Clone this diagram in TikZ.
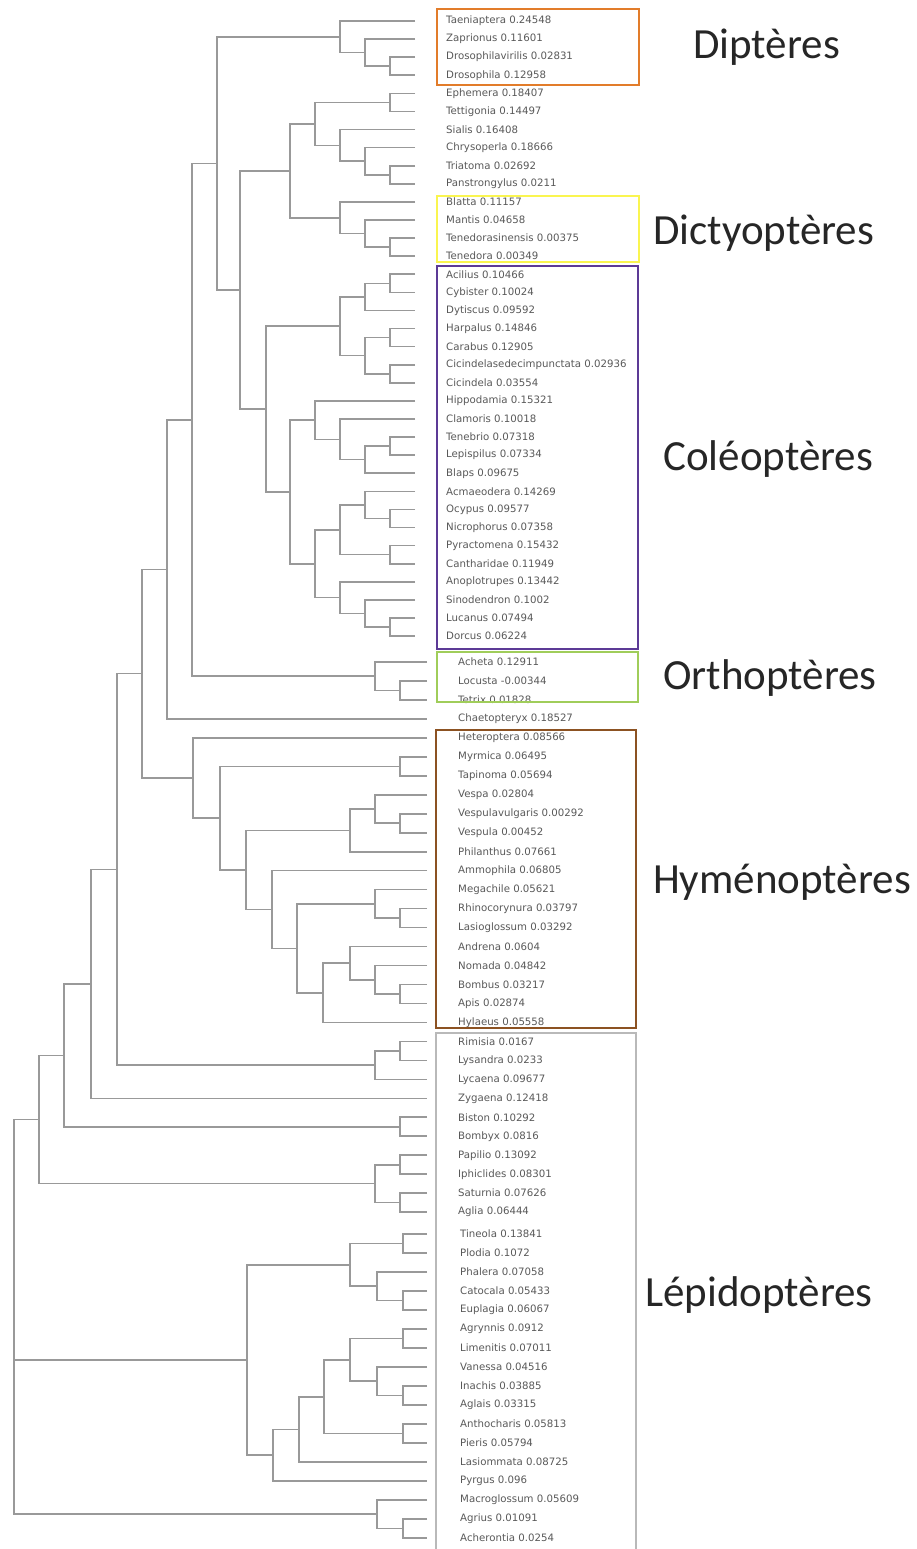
\documentclass[tikz,border=0pt]{standalone}
\usepackage{fontspec}
\setsansfont{DejaVu Sans}
\newfontfamily\groupfont{Carlito}
\usetikzlibrary{calc}

\definecolor{dipcol}{RGB}{226,124,42}
\definecolor{diccol}{RGB}{250,245,80}
\definecolor{colcol}{RGB}{92,58,150}
\definecolor{ortcol}{RGB}{160,205,90}
\definecolor{hymcol}{RGB}{140,82,34}
\definecolor{lepcol}{RGB}{185,185,185}

\tikzset{
  branch/.style={draw=black!40, line width=1.6pt},
  leaf/.style={anchor=west, inner sep=0pt, font=\sffamily\fontsize{10.2}{12}\selectfont, text=black!65},
  group/.style={anchor=west, inner sep=0pt, font=\groupfont\fontsize{43}{50}\selectfont, text=black!85},
  frame/.style={line width=1.8pt},
}

% clade : name, x, upper child, lower child
\newcommand{\clade}[4]{%
  \path let \p1=(#3), \p2=(#4) in coordinate (#1) at (#2pt,{0.5*(\y1)+0.5*(\y2)});
  \draw[branch] (#3) -| (#1) |- (#4);
}

\begin{document}
\begin{tikzpicture}[x=1pt,y=-1pt]
\useasboundingbox (0,0) rectangle (916,1549);
\fill[white] (0,0) rectangle (916,1549);

% feuilles
\foreach \t [count=\i] in {Taeniaptera 0.24548, Zaprionus 0.11601, Drosophilavirilis 0.02831,
  Drosophila 0.12958, Ephemera 0.18407, Tettigonia 0.14497, Sialis 0.16408,
  Chrysoperla 0.18666, Triatoma 0.02692, Panstrongylus 0.0211, Blatta 0.11157,
  Mantis 0.04658, Tenedorasinensis 0.00375, Tenedora 0.00349, Acilius 0.10466,
  Cybister 0.10024, Dytiscus 0.09592, Harpalus 0.14846, Carabus 0.12905,
  Cicindelasedecimpunctata 0.02936, Cicindela 0.03554, Hippodamia 0.15321,
  Clamoris 0.10018, Tenebrio 0.07318, Lepispilus 0.07334, Blaps 0.09675,
  Acmaeodera 0.14269, Ocypus 0.09577, Nicrophorus 0.07358, Pyractomena 0.15432,
  Cantharidae 0.11949, Anoplotrupes 0.13442, Sinodendron 0.1002, Lucanus 0.07494,
  Dorcus 0.06224}{
  \pgfmathsetmacro\y{21+18.09*(\i-1)}
  \coordinate (l\i) at (415,\y);
  \node[leaf] (t\i) at (446,\y) {\t};
}
\foreach \t [count=\i from 36] in {Acheta 0.12911, Locusta -0.00344, Tetrix 0.01828,
  Chaetopteryx 0.18527, Heteroptera 0.08566, Myrmica 0.06495, Tapinoma 0.05694,
  Vespa 0.02804, Vespulavulgaris 0.00292, Vespula 0.00452, Philanthus 0.07661,
  Ammophila 0.06805, Megachile 0.05621, Rhinocorynura 0.03797, Lasioglossum 0.03292,
  Andrena 0.0604, Nomada 0.04842, Bombus 0.03217, Apis 0.02874, Hylaeus 0.05558,
  Rimisia 0.0167, Lysandra 0.0233, Lycaena 0.09677, Zygaena 0.12418,
  Biston 0.10292, Bombyx 0.0816, Papilio 0.13092, Iphiclides 0.08301,
  Saturnia 0.07626, Aglia 0.06444}{
  \pgfmathsetmacro\y{662+18.97*(\i-36)}
  \coordinate (l\i) at (427,\y);
  \node[leaf] (t\i) at (458,\y) {\t};
}
\foreach \t [count=\i from 66] in {Tineola 0.13841, Plodia 0.1072, Phalera 0.07058,
  Catocala 0.05433, Euplagia 0.06067, Agrynnis 0.0912, Limenitis 0.07011,
  Vanessa 0.04516, Inachis 0.03885, Aglais 0.03315, Anthocharis 0.05813,
  Pieris 0.05794, Lasiommata 0.08725, Pyrgus 0.096, Macroglossum 0.05609,
  Agrius 0.01091, Acherontia 0.0254}{
  \pgfmathsetmacro\y{1234+19*(\i-66)}
  \coordinate (l\i) at (427,\y);
  \node[leaf] (t\i) at (460,\y) {\t};
}

% Dipteres
\clade{d1}{390}{l3}{l4}
\clade{d2}{365}{l2}{d1}
\clade{dip}{340}{l1}{d2}
\clade{a1}{390}{l5}{l6}
\clade{a2}{390}{l9}{l10}
\clade{a3}{365}{l8}{a2}
\clade{a4}{340}{l7}{a3}
\clade{a5}{315}{a1}{a4}
% Dictyopteres
\clade{b1}{390}{l13}{l14}
\clade{b2}{365}{l12}{b1}
\clade{dic}{340}{l11}{b2}
\clade{a6}{290}{a5}{dic}
% Coleopteres
\clade{c1}{390}{l15}{l16}
\clade{c2}{365}{c1}{l17}
\clade{c3}{390}{l18}{l19}
\clade{c4}{390}{l20}{l21}
\clade{c5}{365}{c3}{c4}
\clade{c6}{340}{c2}{c5}
\clade{c7}{390}{l24}{l25}
\clade{c8}{365}{c7}{l26}
\clade{c9}{340}{l23}{c8}
\clade{c10}{315}{l22}{c9}
\clade{c11}{390}{l28}{l29}
\clade{c12}{365}{l27}{c11}
\clade{c13}{390}{l30}{l31}
\clade{c14}{340}{c12}{c13}
\clade{c15}{390}{l34}{l35}
\clade{c16}{365}{l33}{c15}
\clade{c17}{340}{l32}{c16}
\clade{c18}{315}{c14}{c17}
\clade{c19}{290}{c10}{c18}
\clade{col}{266}{c6}{c19}
\clade{a7}{240}{a6}{col}
\clade{a8}{217}{dip}{a7}
% Orthopteres
\clade{o1}{400}{l37}{l38}
\clade{ort}{375}{l36}{o1}
\clade{a9}{192}{a8}{ort}
\clade{a10}{167}{a9}{l39}
% Hymenopteres
\clade{h1}{400}{l41}{l42}
\clade{h2}{400}{l44}{l45}
\clade{h3}{375}{l43}{h2}
\clade{h4}{350}{h3}{l46}
\clade{h5}{400}{l49}{l50}
\clade{h6}{375}{l48}{h5}
\clade{h7}{400}{l53}{l54}
\clade{h8}{375}{l52}{h7}
\clade{h9}{350}{l51}{h8}
\clade{h10}{323}{h9}{l55}
\clade{h11}{297}{h6}{h10}
\clade{h12}{272}{l47}{h11}
\clade{h13}{246}{h4}{h12}
\clade{h14}{220}{h1}{h13}
\clade{hym}{193}{l40}{h14}
\clade{a11}{142}{a10}{hym}
% Lepidopteres
\clade{p1}{400}{l56}{l57}
\clade{p2}{375}{p1}{l58}
\clade{a12}{117}{a11}{p2}
\clade{a13}{91}{a12}{l59}
\clade{p3}{400}{l60}{l61}
\clade{a14}{64}{a13}{p3}
\clade{p4}{400}{l62}{l63}
\clade{p5}{400}{l64}{l65}
\clade{p6}{375}{p4}{p5}
\clade{a15}{39}{a14}{p6}
\clade{q1}{403}{l66}{l67}
\clade{q2}{403}{l69}{l70}
\clade{q3}{377}{l68}{q2}
\clade{q4}{350}{q1}{q3}
\clade{q5}{403}{l71}{l72}
\clade{q6}{403}{l74}{l75}
\clade{q7}{377}{l73}{q6}
\clade{q8}{350}{q5}{q7}
\clade{q9}{403}{l76}{l77}
\clade{q10}{324}{q8}{q9}
\clade{q11}{299}{q10}{l78}
\clade{q12}{273}{q11}{l79}
\clade{q13}{247}{q4}{q12}
\clade{s1}{403}{l81}{l82}
\clade{sph}{377}{l80}{s1}
% racine
\path let \p1=(q13) in coordinate (root) at (14pt,\y1);
\draw[branch] (a15) -| (root) |- (sph);
\draw[branch] (root) -- (q13);

% cadres
\draw[frame, dipcol] (437,9) rectangle (639,85);
\draw[frame, diccol] (437,196) rectangle (639,262);
\draw[frame, colcol] (437,266) rectangle (638,649);
\draw[frame, ortcol, line width=1.4pt] (437,652) rectangle (638,702);
\draw[frame, hymcol] (436,730) rectangle (636,1028);
\draw[frame, lepcol, line width=1.4pt] (436,1549) |- (636,1033) -- (636,1549);

% groupes
\node[group] (gdip) at (693,47) {Diptères};
\node[group] (gdic) at (653,233) {Dictyoptères};
\node[group] (gcol) at (663,459) {Coléoptères};
\node[group] (gort) at (663,678) {Orthoptères};
\node[group] (ghym) at (653,882) {Hyménoptères};
\node[group] (glep) at (645,1295) {Lépidoptères};
\end{tikzpicture}
\end{document}
